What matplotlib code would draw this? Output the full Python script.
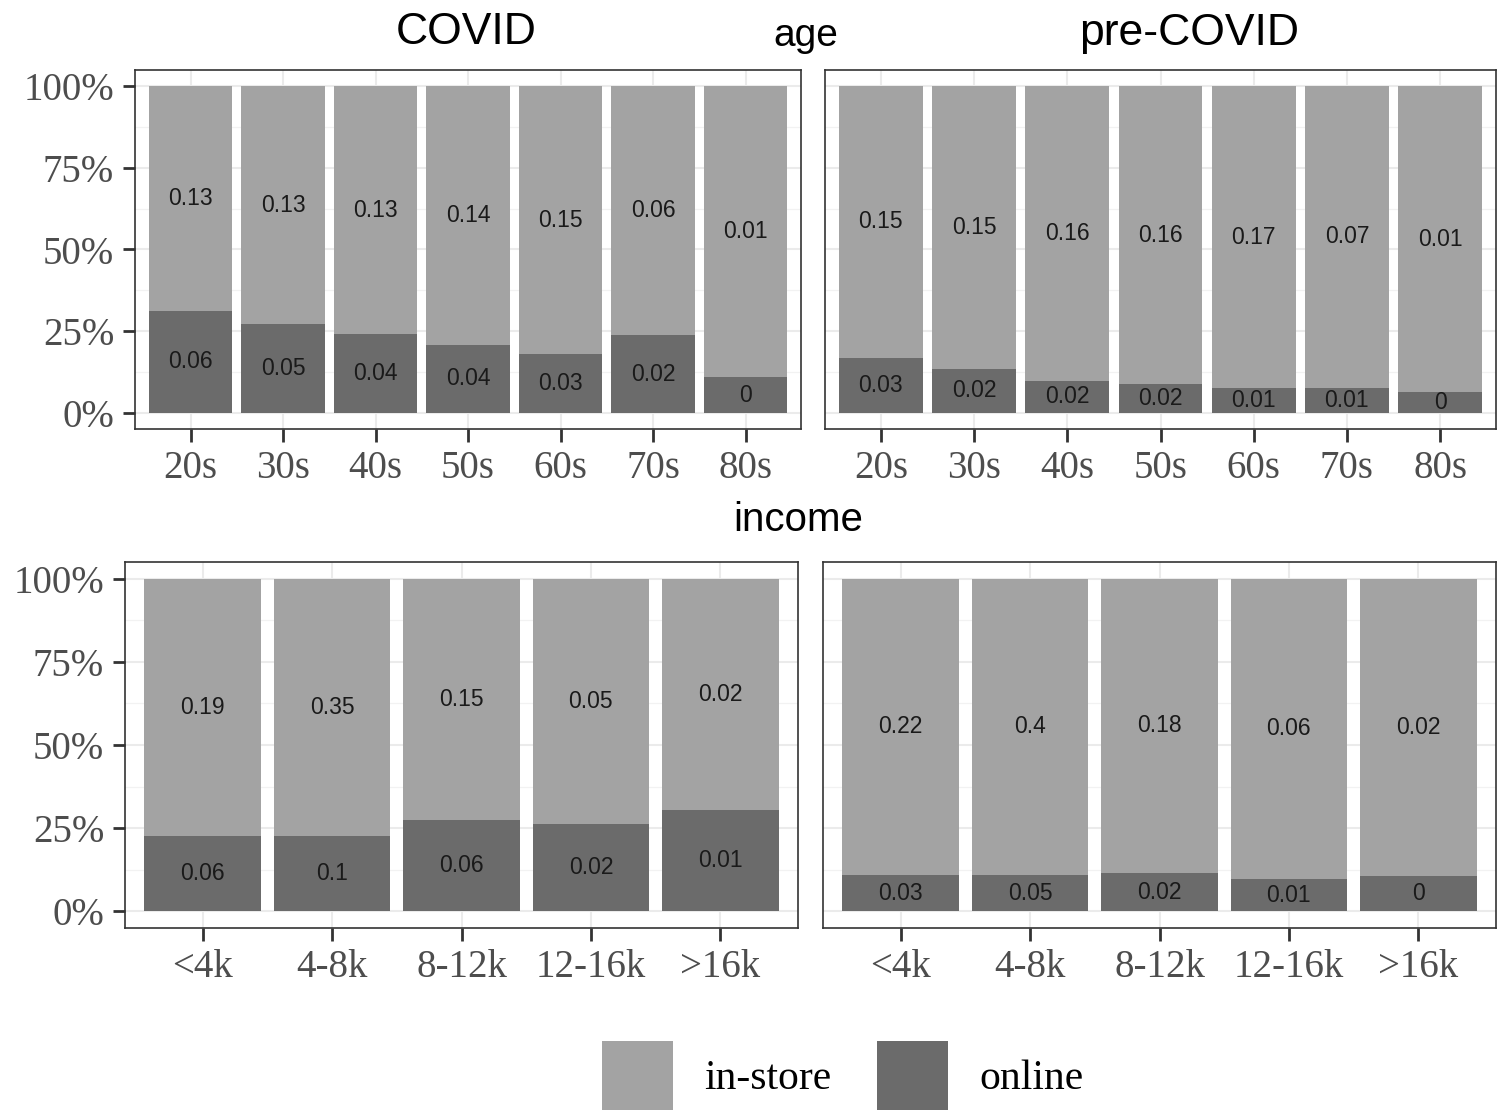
import matplotlib
matplotlib.use('Agg')
import matplotlib.pyplot as plt
from matplotlib.patches import Patch
import numpy as np

# categories
age_cats = ['20s', '30s', '40s', '50s', '60s', '70s', '80s']
income_cats = ['<4k', '4-8k', '8-12k', '12-16k', '>16k']

# online share of each bar; in-store fills up to 100%
covid_age_online = [0.313, 0.272, 0.242, 0.207, 0.179, 0.237, 0.108]
pre_age_online = [0.169, 0.133, 0.098, 0.088, 0.076, 0.077, 0.063]
covid_inc_online = [0.228, 0.226, 0.274, 0.264, 0.304]
pre_inc_online = [0.110, 0.110, 0.115, 0.098, 0.106]

# numbers printed on the bars
covid_age_lab_in = [0.13, 0.13, 0.13, 0.14, 0.15, 0.06, 0.01]
covid_age_lab_on = [0.06, 0.05, 0.04, 0.04, 0.03, 0.02, 0]
pre_age_lab_in = [0.15, 0.15, 0.16, 0.16, 0.17, 0.07, 0.01]
pre_age_lab_on = [0.03, 0.02, 0.02, 0.02, 0.01, 0.01, 0]
covid_inc_lab_in = [0.19, 0.35, 0.15, 0.05, 0.02]
covid_inc_lab_on = [0.06, 0.1, 0.06, 0.02, 0.01]
pre_inc_lab_in = [0.22, 0.4, 0.18, 0.06, 0.02]
pre_inc_lab_on = [0.03, 0.05, 0.02, 0.01, 0]

ytick_vals = [0, 0.25, 0.5, 0.75, 1.0]
ytick_labels = ['0%', '25%', '50%', '75%', '100%']

C_IN = '#A3A3A3'
C_ON = '#6B6B6B'
SERIF = 'Liberation Serif'
SANS = 'Liberation Sans'

W, H = 1499, 1110
fig = plt.figure(figsize=(W / 100, H / 100), dpi=100)


def px_rect(x0, x1, y0, y1):
    # pixel box (top-left origin) -> figure fraction
    return [x0 / W, 1 - y1 / H, (x1 - x0) / W, (y1 - y0) / H]


def panel(rect, cats, online, lab_in, lab_on, show_y):
    ax = fig.add_axes(rect)
    x = np.arange(len(cats))
    online = np.array(online)
    instore = 1 - online
    ax.bar(x, online, width=0.9, color=C_ON, zorder=2)
    ax.bar(x, instore, bottom=online, width=0.9, color=C_IN, zorder=2)
    for i in range(len(cats)):
        ax.text(x[i], online[i] / 2, f'{lab_on[i]:g}', ha='center', va='center',
                fontsize=16.5, family=SANS, color='#1A1A1A', zorder=3)
        ax.text(x[i], online[i] + instore[i] / 2, f'{lab_in[i]:g}', ha='center',
                va='center', fontsize=16.5, family=SANS, color='#1A1A1A', zorder=3)
    ax.set_xlim(-0.6, len(cats) - 0.4)
    ax.set_ylim(-0.05, 1.05)
    ax.set_xticks(x)
    ax.set_xticklabels(cats, family=SERIF, fontsize=28, color='#4D4D4D')
    ax.set_yticks(ytick_vals)
    ax.set_yticks([0.125, 0.375, 0.625, 0.875], minor=True)
    ax.set_axisbelow(True)
    ax.grid(which='major', color='#EBEBEB', lw=1.5)
    ax.grid(which='minor', axis='y', color='#F2F2F2', lw=0.9)
    ax.tick_params(axis='x', length=9, width=2, color='#333333', pad=6)
    ax.tick_params(which='minor', length=0)
    if show_y:
        ax.set_yticklabels(ytick_labels, family=SERIF, fontsize=28, color='#4D4D4D')
        ax.tick_params(axis='y', length=9, width=2, color='#333333', pad=6)
    else:
        ax.set_yticklabels([])
        ax.tick_params(axis='y', length=0)
    for s in ax.spines.values():
        s.set_color('#333333')
        s.set_linewidth(1.2)
    return ax


panel(px_rect(135, 801, 70, 429), age_cats, covid_age_online,
      covid_age_lab_in, covid_age_lab_on, True)
panel(px_rect(825, 1496, 70, 429), age_cats, pre_age_online,
      pre_age_lab_in, pre_age_lab_on, False)
panel(px_rect(125, 798, 562, 928), income_cats, covid_inc_online,
      covid_inc_lab_in, covid_inc_lab_on, True)
panel(px_rect(823, 1496, 562, 928), income_cats, pre_inc_online,
      pre_inc_lab_in, pre_inc_lab_on, False)

# titles
fig.text(466 / W, 1 - 33 / H, 'COVID', ha='center', va='center', fontsize=32, family=SANS)
fig.text(1189 / W, 1 - 33 / H, 'pre-COVID', ha='center', va='center', fontsize=32, family=SANS)
fig.text(806 / W, 1 - 36 / H, 'age', ha='center', va='center', fontsize=28, family=SANS)
fig.text(798 / W, 1 - 520 / H, 'income', ha='center', va='center', fontsize=29, family=SANS)

handles = [Patch(facecolor=C_IN, label='in-store'), Patch(facecolor=C_ON, label='online')]
fig.legend(handles=handles, loc='center', bbox_to_anchor=(843 / W, 1 - 1076 / H), ncol=2,
           frameon=False, prop={'family': SERIF, 'size': 30}, handlelength=1.7,
           handleheight=2.2, handletextpad=0.75, columnspacing=1.1)

fig.savefig('out.png', dpi=100)
